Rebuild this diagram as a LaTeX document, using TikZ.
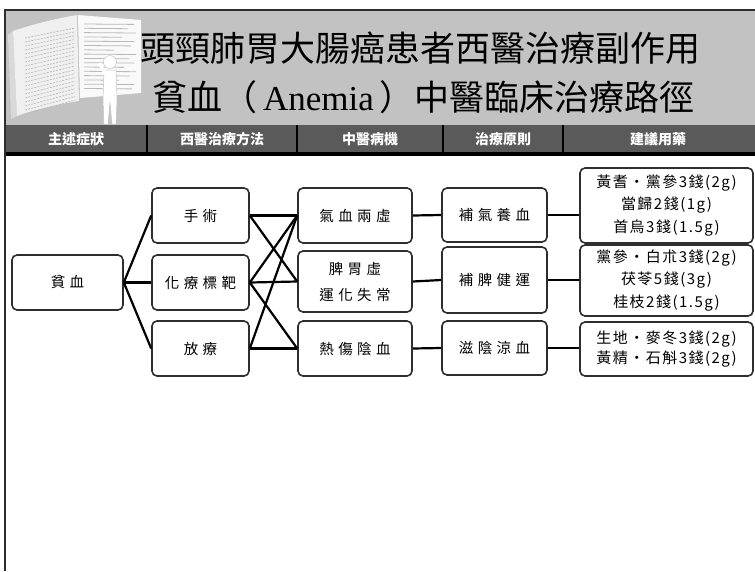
\documentclass[tikz,border=0pt]{standalone}
\usepackage{fontspec}
\setmainfont{Liberation Serif}
\newfontfamily\cjk{Noto Sans CJK TC}
\newfontfamily\cjkwide[LetterSpace=30]{Noto Sans CJK TC}
\newfontfamily\cjkmed[LetterSpace=10]{Noto Sans CJK TC}
\usetikzlibrary{calc}

\definecolor{bannergray}{HTML}{C2C2C2}
\definecolor{bandgray}{HTML}{5A5A5A}
\definecolor{edgegray}{HTML}{2E2E2E}

\tikzset{
  box/.style={draw=edgegray, line width=1.6pt, rounded corners=5pt, fill=white,
              inner sep=0pt, align=center, font=\cjkwide\fontsize{14.5}{26}\selectfont},
  medbox/.style={box, font=\cjkmed\fontsize{15}{22.5}\selectfont},
  link/.style={line width=2.2pt, black},
  colhead/.style={text=white, font=\cjk\bfseries\fontsize{14}{14}\selectfont, inner sep=0pt},
  colrule/.style={line width=1.4pt, black},
  titletext/.style={anchor=west, inner sep=0pt, font=\cjk\fontsize{35}{35}\selectfont}
}

\begin{document}
\begin{tikzpicture}[x=1pt, y=-1pt]
\useasboundingbox (0,0) rectangle (755,571);
\fill[white] (0,0) rectangle (755,571);

% ---------- banner ----------
\fill[bannergray] (5,10) rectangle (755,125);

% open book with a reader
\fill[gray!30] (8,35) -- (13,31) -- (17,116) -- (11,119) -- cycle;
\fill[gray!12] (13,31) .. controls (40,22) and (60,18) .. (77,15)
   -- (79,101) .. controls (60,104) and (36,109) .. (17,116) -- cycle;
\foreach \k in {0,...,19}{
  \draw[gray!55, line width=0.7pt, dash pattern=on 2pt off 1.2pt]
    (25,{38+4*\k}) -- (75,{28+3.8*\k});
}
\fill[gray!5] (78,15) -- (141,20) -- (141,93) -- (80,98) -- cycle;
\foreach \k/\l in {0/50,1/44,2/52,3/38,4/50,5/47,6/30,7/52,8/45,9/50,10/40,11/52,12/46,13/35,14/50,15/48}{
  \draw[gray!55, line width=0.8pt] (84,{24+4.3*\k}) -- ({84+\l},{24.4+4.3*\k});
}
\fill[white, draw=gray!45, line width=0.5pt] (110,62) circle (6.5);
\fill[white, draw=gray!45, line width=0.5pt]
  (104,70) -- (116,70) -- (117,100) -- (116,124) -- (112,124) -- (110,102)
  -- (108,124) -- (104,124) -- (103,100) -- cycle;
\draw[white, line width=3pt, line cap=round] (105,74) -- (100,64);

% column header band
\fill[bandgray] (5,125) rectangle (755,152);
\draw[line width=3.5pt, black] (5,154) -- (755,154);
\foreach \x in {147,297,443,563}{
  \draw[colrule] (\x,125) -- (\x,152);
}
\node[colhead] (h1) at (76,139) {主述症狀};
\node[colhead] (h2) at (222,139) {西醫治療方法};
\node[colhead] (h3) at (370,139) {中醫病機};
\node[colhead] (h4) at (503,139) {治療原則};
\node[colhead] (h5) at (658,139) {建議用藥};

% outer frame
\draw[line width=1.6pt, edgegray] (5,571) -- (5,10) -- (755,10);

% title
\node[titletext] (t1) at (140,48) {頭頸肺胃大腸癌患者西醫治療副作用};
\node[titletext] (t2) at (152,97) {貧血（\,{\rmfamily Anemia}\,）中醫臨床治療路徑};

% ---------- pathway ----------
\node[box, minimum width=111pt, minimum height=55pt] (sym) at (67.5,282.5) {貧血};

\node[box, minimum width=97pt, minimum height=55pt] (op)   at (200.5,215.5) {手術};
\node[box, minimum width=97pt, minimum height=55pt] (chem) at (200.5,282.5) {化療標靶};
\node[box, minimum width=97pt, minimum height=55pt] (rad)  at (200.5,348.5) {放療};

\node[box, minimum width=114pt, minimum height=55pt] (qx)  at (355,215.5) {氣血兩虛};
\node[box, minimum width=114pt, minimum height=61pt] (pw)  at (355,281.5) {脾胃虛\\運化失常};
\node[box, minimum width=114pt, minimum height=55pt] (rs)  at (355,348.5) {熱傷陰血};

\node[box, minimum width=105pt, minimum height=54pt] (bq)  at (494.5,215) {補氣養血};
\node[box, minimum width=105pt, minimum height=66pt] (bp)  at (494.5,280) {補脾健運};
\node[box, minimum width=105pt, minimum height=54pt] (zy)  at (494.5,348) {滋陰涼血};

\node[medbox, minimum width=173pt, minimum height=75pt] (m1) at (666.5,205.5)
  {黃耆・黨參3錢(2g)\\當歸2錢(1g)\\首烏3錢(1.5g)};
\node[medbox, minimum width=173pt, minimum height=71pt] (m2) at (666.5,280.5)
  {黨參・白朮3錢(2g)\\茯苓5錢(3g)\\桂枝2錢(1.5g)};
\node[medbox, minimum width=173pt, minimum height=54pt,
      font=\cjkmed\fontsize{15}{20}\selectfont] (m3) at (666.5,349)
  {生地・麥冬3錢(2g)\\黃精・石斛3錢(2g)};

% symptom to treatments
\draw[link] (sym.east) -- (op.west);
\draw[link] (sym.east) -- (chem.west);
\draw[link] (sym.east) -- (rad.west);

% treatments to patterns
\draw[link] (op.east) -- (qx.west);
\draw[link] (op.east) -- (pw.west);
\draw[link] (chem.east) -- (qx.west);
\draw[link] (chem.east) -- (pw.west);
\draw[link] (chem.east) -- (rs.west);
\draw[link] (rad.east) -- (qx.west);
\draw[link] (rad.east) -- (rs.west);

% patterns to principles
\draw[link] (qx.east) -- (bq.west);
\draw[link] (pw.east) -- (bp.west);
\draw[link] (rs.east) -- (zy.west);

% principles to prescriptions
\draw[link] (bq.east) -- (bq.east -| m1.west);
\draw[link] (bp.east) -- (bp.east -| m2.west);
\draw[link] (zy.east) -- (zy.east -| m3.west);
\end{tikzpicture}
\end{document}
